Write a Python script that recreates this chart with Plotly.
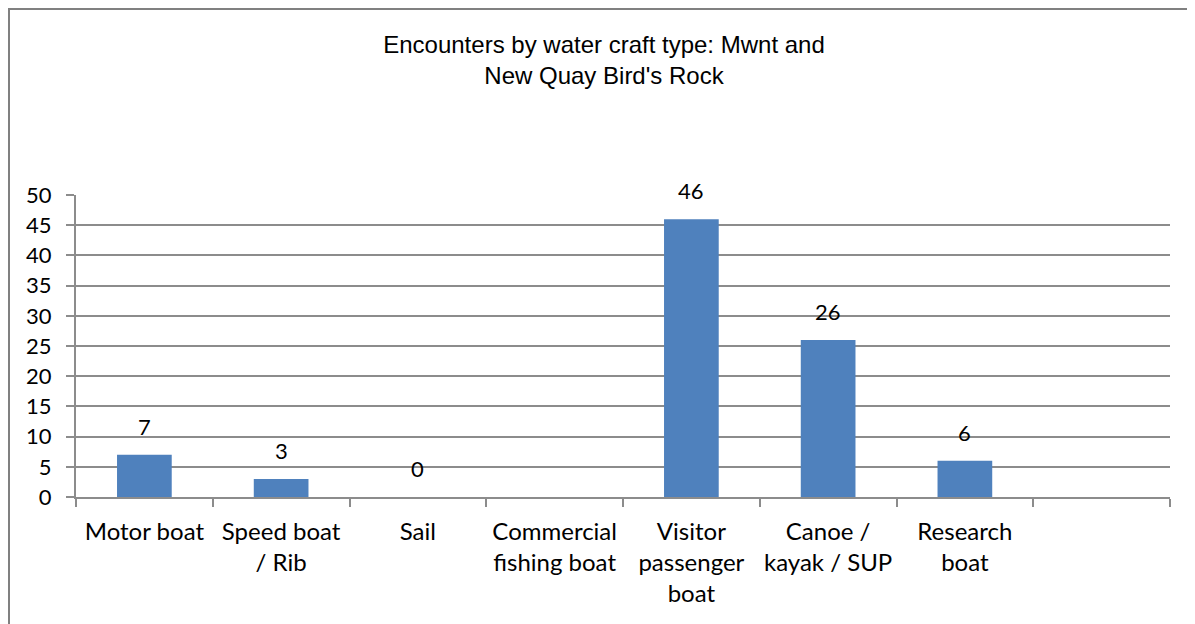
import plotly.graph_objects as go

categories = ["Motor boat", "Speed boat<br>/ Rib", "Sail", "Commercial<br>fishing boat",
              "Visitor<br>passenger<br>boat", "Canoe /<br>kayak / SUP", "Research<br>boat", " "]
values = [7, 3, 0, None, 46, 26, 6, None]
y_ticks = list(range(0, 51, 5))

BAR = "#4F81BD"
GRID = "#8C8C8C"
LABEL_FONT = "Lato, Open Sans, sans-serif"

# the page puts the figure 8px in from the top-left corner
W, H = 1187, 616
ML, MR, MT, MB = 68, 25, 187, 127
PW, PH = W - ML - MR, H - MT - MB

fig = go.Figure()
fig.add_trace(go.Bar(
    x=categories, y=values,
    marker=dict(color=BAR, line=dict(width=0)),
    hoverinfo="skip",
))

# data labels, sitting a little above each bar like the Excel original
for cat, v in zip(categories, values):
    if v is None:
        continue
    fig.add_annotation(
        x=cat, y=v, text=str(v), showarrow=False,
        yanchor="bottom", yshift=13,
        font=dict(family=LABEL_FONT, size=22, color="#000000"),
    )

# chart border (Excel chart-area frame), only left and top show in the crop
fig.add_shape(type="rect", xref="paper", yref="paper",
              x0=-(ML - 1) / PW, x1=1 + (MR + 20) / PW,
              y0=-(MB + 20) / PH, y1=1 + (MT - 1) / PH,
              line=dict(color="#808080", width=2), layer="below")

fig.update_layout(
    width=W, height=H,
    paper_bgcolor="white", plot_bgcolor="white",
    margin=dict(l=ML, r=MR, t=MT, b=MB),
    bargap=0.6,
    showlegend=False,
    title=dict(
        text="Encounters by water craft type: Mwnt and<br>New Quay Bird's Rock",
        font=dict(family="Liberation Sans Narrow, Arial Narrow, Liberation Sans, sans-serif",
                  size=24, color="#000000"),
        x=(604 - 8) / W, xanchor="center", y=1 - 45 / H, yanchor="top",
    ),
    xaxis=dict(
        type="category", categoryorder="array", categoryarray=categories,
        tickson="boundaries", ticks="outside", ticklen=8, tickwidth=2, tickcolor=GRID,
        showline=True, linecolor=GRID, linewidth=2, showgrid=False,
        tickfont=dict(family=LABEL_FONT, size=24, color="#000000"),
        tickangle=0, automargin=False,
        ticklabelstandoff=12,
    ),
    yaxis=dict(
        range=[0, 50], tickvals=y_ticks, ticks="outside", ticklen=8, tickwidth=2,
        tickcolor=GRID, showline=True, linecolor=GRID, linewidth=2,
        showgrid=True, gridcolor=GRID, gridwidth=2, zeroline=False,
        tickfont=dict(family=LABEL_FONT, size=22, color="#000000"),
        ticklabelstandoff=10, automargin=False,
    ),
)

fig.write_html("out.html")
